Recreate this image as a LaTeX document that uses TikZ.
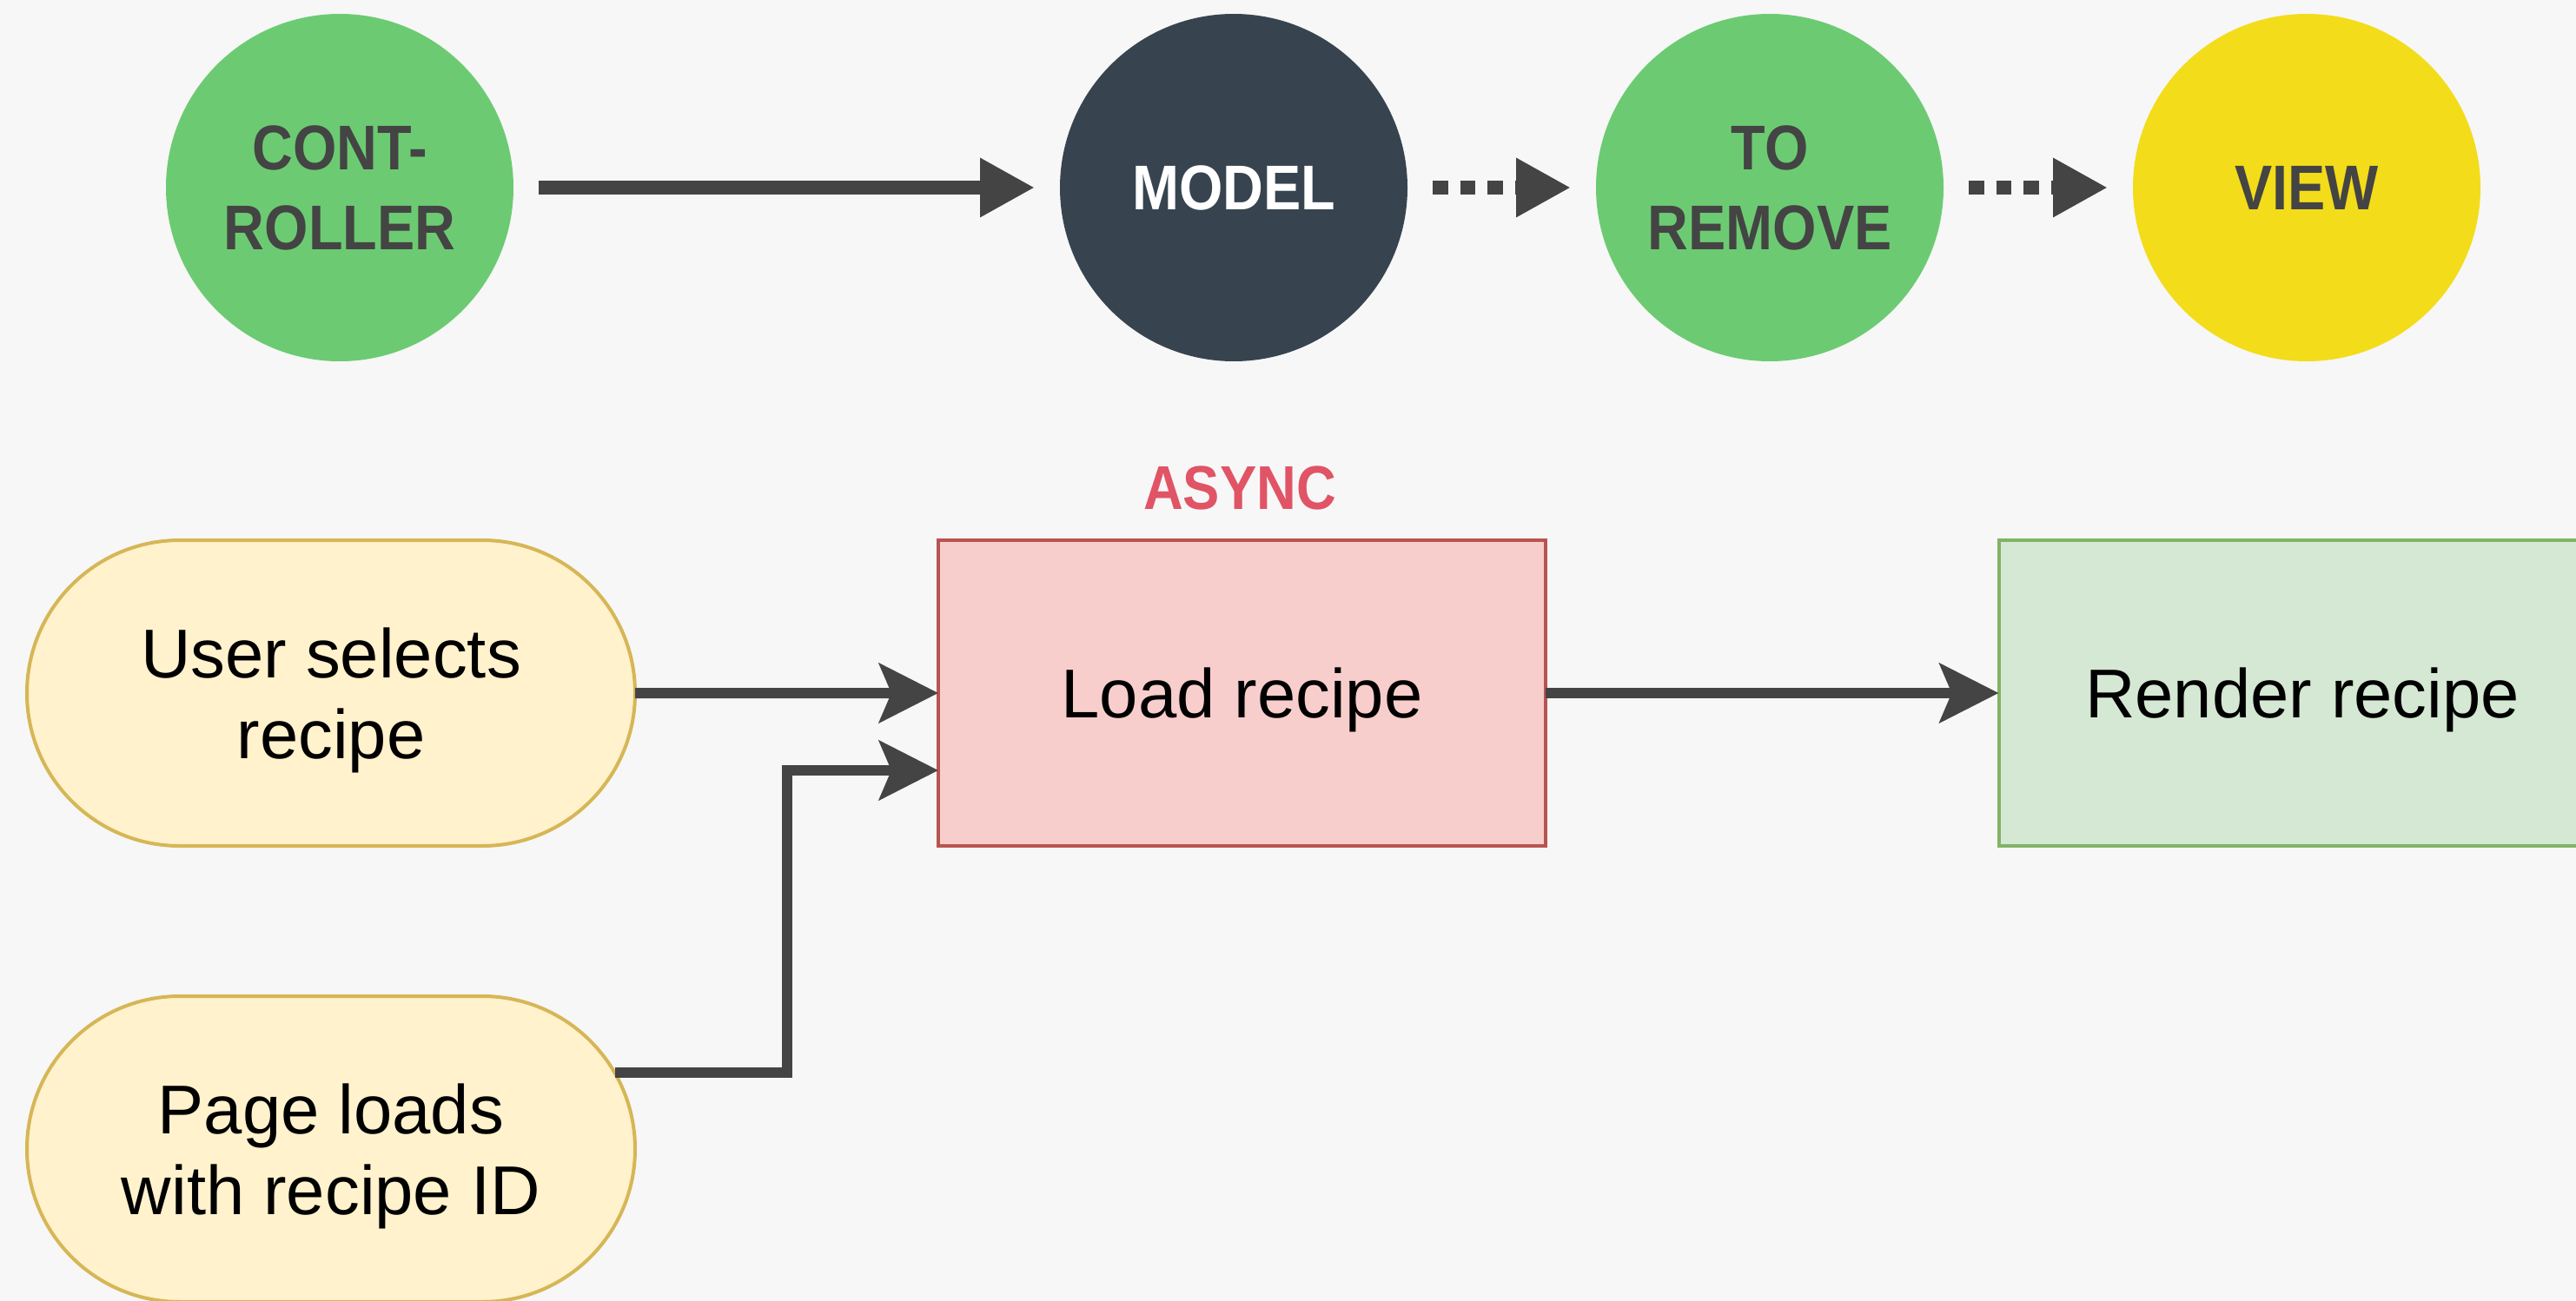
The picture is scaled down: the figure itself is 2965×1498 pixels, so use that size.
\documentclass[tikz,border=0pt]{standalone}
\usepackage{fontspec}
\setmainfont{Liberation Sans}
\newfontfamily\topfont{Liberation Sans}[FakeStretch=0.89]
\usetikzlibrary{arrows.meta,shapes.misc,calc}
\definecolor{bgc}{HTML}{F7F7F7}
\definecolor{grn}{HTML}{6CCB72}
\definecolor{drk}{HTML}{37444F}
\definecolor{ylw}{HTML}{F3DC1A}
\definecolor{txt}{HTML}{444444}
\definecolor{arrc}{HTML}{444444}
\definecolor{asy}{HTML}{E05466}
\definecolor{stfill}{HTML}{FFF2CC}
\definecolor{ststroke}{HTML}{D6B656}
\definecolor{ldfill}{HTML}{F8CECC}
\definecolor{ldstroke}{HTML}{B85450}
\definecolor{rdfill}{HTML}{D5E8D4}
\definecolor{rdstroke}{HTML}{82B366}
\begin{document}
\begin{tikzpicture}[x=0.25pt,y=-0.25pt,
  circ/.style={circle, minimum size=100pt, inner sep=0pt, outer sep=0pt, draw=none, align=center,
    font=\topfont\bfseries\fontsize{18.2}{23}\selectfont, text=txt},
  toparr/.style={draw=arrc, line width=4pt, -{Triangle[length=15.75pt,width=16pt]},
    shorten >=7.25pt, shorten <=7.25pt},
  dotarr/.style={toparr, dash pattern=on 4.375pt off 3.5pt},
  stad/.style={rounded rectangle, minimum width=175pt, minimum height=88pt, inner sep=0pt,
    outer sep=0pt, fill=stfill, draw=ststroke, line width=1pt, align=center, text depth=0pt,
    font=\fontsize{19.9}{23.25}\selectfont},
  boxst/.style={rectangle, minimum width=174.75pt, minimum height=88pt, line width=1pt,
    inner sep=0pt, outer sep=0pt, text depth=0pt, font=\fontsize{19.9}{23.25}\selectfont},
  botarr/.style={draw=arrc, line width=3pt, -{Stealth[length=17pt,width=17pt,inset=3.5pt]}},
  asylabel/.style={font=\topfont\bfseries\fontsize{17.8}{20}\selectfont, text=asy, inner sep=0pt}
]
\useasboundingbox (0,0) rectangle (2965,1498);
\clip (0,0) rectangle (2965,1498);
\fill[bgc] (0,0) rectangle (2965,1498);

\node[circ, fill=grn] (ctrl) at (391,216) {CONT-\\ROLLER};
\node[circ, fill=drk, text=white] (model) at (1420,216) {MODEL};
\node[circ, fill=grn] (tor) at (2037,216) {TO\\REMOVE};
\node[circ, fill=ylw] (view) at (2655,216) {VIEW};

\node[asylabel] (async) at (1427,562) {ASYNC};
\node[stad] (us) at (381,798) {User selects\\recipe};
\node[stad] (pl) at (381,1323) {Page loads\\with recipe ID};
\node[boxst, fill=ldfill, draw=ldstroke] (ld) at (1429.5,798) {Load recipe};
\node[boxst, fill=rdfill, draw=rdstroke] (rd) at (2650,798) {Render recipe};

\draw[toparr] (ctrl) -- (model);
\draw[dotarr] (model) -- (tor);
\draw[dotarr] (tor) -- (view);

\draw[botarr] (us) -- (ld);
\draw[botarr] (pl.15) -| ($(ld.west)+(-174,89)$) -- ($(ld.west)+(0,89)$);
\draw[botarr] (ld) -- (rd);
\end{tikzpicture}
\end{document}
